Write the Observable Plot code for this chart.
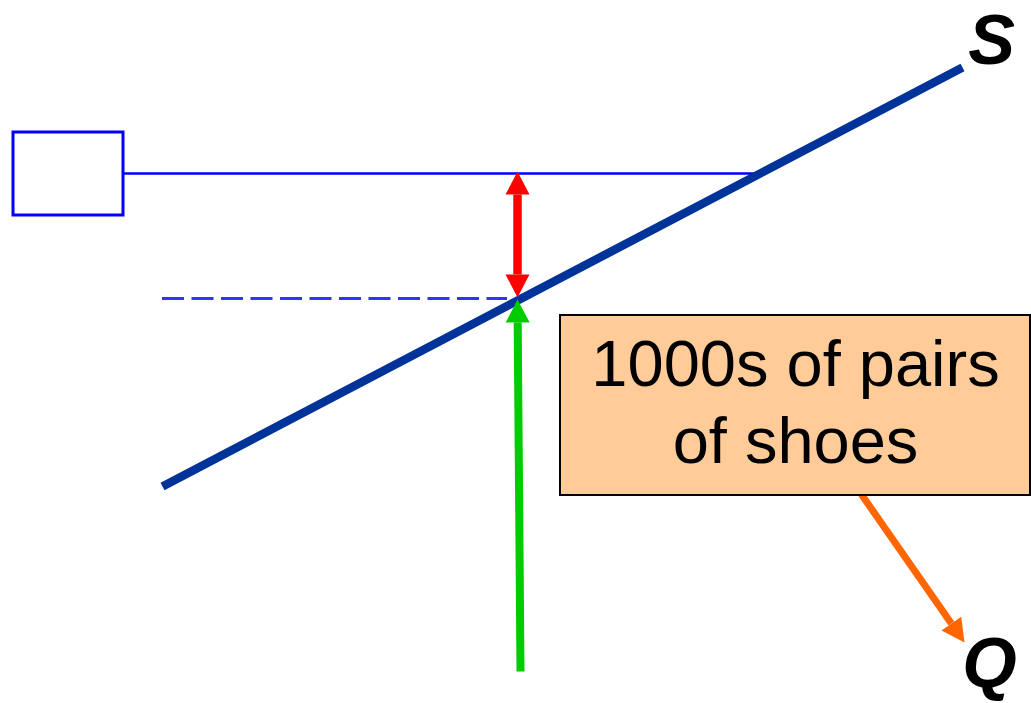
<!DOCTYPE html>
<html>
<head>
<meta charset="utf-8">
<script src="https://cdn.jsdelivr.net/npm/d3@7"></script>
<script src="https://cdn.jsdelivr.net/npm/@observablehq/plot@0.6"></script>
<style>
  html, body { margin: 0; padding: 0; background: #ffffff; }
  #chart svg { display: block; }
</style>
</head>
<body>
<div id="chart"></div>
<script>
// Diagram units (x to the right, y downward), one unit per pixel
const supplyX = [162, 962];
const supplyY = [486, 67];

const priceBox = {x1: 13, x2: 123, y1: 132, y2: 215};
const priceLineY = 173;
const priceLineX = [123, 756];

const dashedY = 298;
const dashedX = [162, 507];

const labelBox = {x1: 560, x2: 1030, y1: 315, y2: 495};
const labelLines = ["1000s of pairs", "of shoes"];
const labelBaselines = [385, 462];
const labelCenterX = 795;

const axisLabels = ["S", "Q"];
const axisLabelX = [991, 989];
const axisLabelY = [63, 686];

// arrows: start -> tip
const arrowNames = ["red", "green", "orange"];
const arrowX1 = [517, 520, 861];
const arrowY1 = [171, 671, 494];
const arrowX2 = [517, 517, 964];
const arrowY2 = [297, 299, 642];
const arrowColors = ["#ff0000", "#00cc00", "#ff6600"];
const arrowWidths = [8.5, 8, 7];
const arrowDouble = [true, false, false];

const headLen = 23, headHalf = 12;

const shafts = [];
const heads = [];
function addHead(id, tx, ty, fx, fy, color) {
  const dx = tx - fx, dy = ty - fy, len = Math.hypot(dx, dy);
  const ux = dx / len, uy = dy / len;
  const bx = tx - ux * headLen, by = ty - uy * headLen;
  const nx = -uy, ny = ux;
  heads.push({id, x: tx, y: ty, color});
  heads.push({id, x: bx + nx * headHalf, y: by + ny * headHalf, color});
  heads.push({id, x: bx - nx * headHalf, y: by - ny * headHalf, color});
  return [bx, by];
}
arrowNames.forEach((n, i) => {
  let [sx, sy] = [arrowX1[i], arrowY1[i]];
  const [ex, ey] = addHead(n + "-end", arrowX2[i], arrowY2[i], sx, sy, arrowColors[i]);
  if (arrowDouble[i]) {
    [sx, sy] = addHead(n + "-start", arrowX1[i], arrowY1[i], arrowX2[i], arrowY2[i], arrowColors[i]);
  }
  shafts.push({x1: sx, y1: sy, x2: ex, y2: ey, color: arrowColors[i], w: arrowWidths[i]});
});

const supply = supplyX.map((x, i) => ({x, y: supplyY[i]}));
const labels = labelLines.map((t, i) => ({t, x: labelCenterX, y: labelBaselines[i]}));
const axisText = axisLabels.map((t, i) => ({t, x: axisLabelX[i], y: axisLabelY[i]}));

const chart = Plot.plot({
  width: 1031,
  height: 703,
  margin: 0,
  x: {domain: [0, 1031], range: [0, 1031], axis: null},
  y: {domain: [0, 703], range: [0, 703], axis: null},
  style: {fontFamily: "'Liberation Sans', Arial, sans-serif", background: "#ffffff"},
  marks: [
    // price line from box
    Plot.ruleY([priceLineY], {x1: priceLineX[0], x2: priceLineX[1], stroke: "#0000ff", strokeWidth: 2.5}),
    // dashed price line
    Plot.ruleY([dashedY], {x1: dashedX[0], x2: dashedX[1], stroke: "#3333ff", strokeWidth: 3, strokeDasharray: "22,7.5"}),
    // empty price box
    Plot.rect([priceBox], {x1: "x1", x2: "x2", y1: "y1", y2: "y2", fill: "#ffffff", stroke: "#0000ff", strokeWidth: 3}),
    // supply curve
    Plot.line(supply, {x: "x", y: "y", stroke: "#003399", strokeWidth: 8.5, strokeLinecap: "butt"}),
    // arrow shafts and heads
    Plot.link(shafts, {x1: "x1", y1: "y1", x2: "x2", y2: "y2", stroke: d => d.color, strokeWidth: d => d.w, strokeLinecap: "butt"}),
    Plot.line(heads, {x: "x", y: "y", z: "id", fill: d => d.color, stroke: "none", curve: "linear-closed"}),
    // label box
    Plot.rect([labelBox], {x1: "x1", x2: "x2", y1: "y1", y2: "y2", fill: "#ffcc99", stroke: "#000000", strokeWidth: 2}),
    Plot.text(labels, {x: "x", y: "y", text: "t", fontSize: 65, fill: "#000000", textAnchor: "middle", lineAnchor: "bottom"}),
    // axis letters
    Plot.text(axisText, {x: "x", y: "y", text: "t", fontSize: 70, fontWeight: "bold", fontStyle: "italic", fill: "#000000", textAnchor: "middle", lineAnchor: "bottom"})
  ]
});
chart.setAttribute("color", "#000000");
document.getElementById("chart").appendChild(chart);
</script>
</body>
</html>
